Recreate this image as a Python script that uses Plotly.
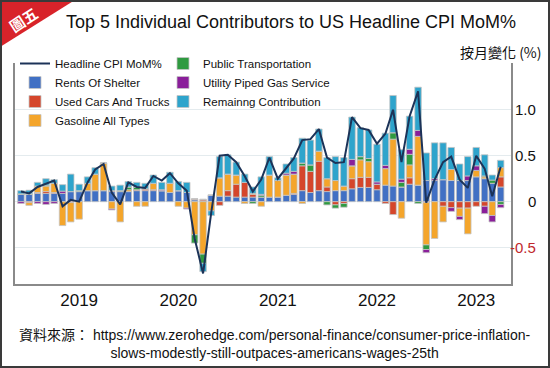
import plotly.graph_objects as go
import pandas as pd

# ---------------- data ----------------
dates = pd.date_range("2018-06-01", "2023-04-01", freq="MS").strftime("%Y-%m-%d").tolist()

rents_of_shelter = [0.08, 0.08, 0.09, 0.09, 0.09, 0.09, 0.11, 0.11, 0.12, 0.12,
                    0.12, 0.11, 0.11, 0.11, 0.12, 0.12, 0.12, 0.12, 0.10, 0.12,
                    0.10, 0.02, 0.01, 0.07, 0.06, 0.06, 0.05, 0.05, 0.05, 0.05,
                    0.05, 0.05, 0.07, 0.08, 0.12, 0.10, 0.12, 0.11, 0.12, 0.12,
                    0.14, 0.155, 0.155, 0.13, 0.18, 0.17, 0.16, 0.19, 0.18, 0.23,
                    0.23, 0.24, 0.23, 0.23, 0.23, 0.27, 0.25, 0.20, 0.16]
used_cars = [0.00, -0.01, 0.01, 0.02, 0.01, 0.00, -0.01, 0.00, 0.00, 0.00,
             0.00, 0.01, 0.00, 0.00, 0.01, 0.02, 0.01, 0.00, 0.00, 0.00,
             0.00, 0.01, 0.015, 0.00, -0.04, 0.06, 0.14, 0.16, 0.03, 0.00,
             0.00, 0.00, 0.00, 0.01, 0.27, 0.23, 0.32, 0.05, -0.035, -0.02,
             0.11, 0.11, 0.11, 0.06, -0.02, -0.14, 0.00, 0.07, 0.00, -0.01,
             0.00, -0.05, -0.065, -0.07, -0.07, -0.05, -0.05, 0.00, 0.11]
gasoline = [0.00, -0.03, 0.07, 0.06, 0.10, -0.26, -0.21, -0.19, 0.08, 0.18,
            0.30, -0.08, -0.22, 0.02, -0.05, -0.05, 0.07, 0.00, 0.10, -0.05,
            -0.07, -0.36, -0.57, -0.10, 0.20, 0.18, 0.10, -0.02, 0.01, -0.05,
            0.24, 0.18, 0.22, 0.21, -0.02, 0.00, 0.11, 0.09, 0.11, 0.05,
            0.14, 0.19, 0.17, 0.00, 0.18, 0.51, -0.18, 0.14, 0.53, -0.46,
            -0.40, -0.17, 0.12, -0.09, -0.28, 0.07, 0.02, -0.15, 0.10]
public_transport = [0.005, 0.005, 0.00, 0.01, 0.00, 0.00, 0.00, 0.01, 0.00, 0.00,
                    0.00, 0.00, 0.01, 0.03, 0.03, 0.00, 0.00, 0.00, 0.00, 0.00,
                    0.00, -0.09, -0.10, 0.00, 0.00, 0.00, 0.00, 0.00, -0.02, 0.02,
                    0.00, 0.00, 0.00, 0.00, 0.03, 0.07, 0.00, -0.035, -0.035, -0.04,
                    0.00, 0.035, 0.035, 0.00, 0.00, 0.07, 0.05, 0.115, -0.02, -0.05,
                    0.00, 0.00, 0.00, 0.00, 0.00, 0.00, 0.01, 0.035, -0.03]
utility_gas = [-0.02, 0.00, -0.02, -0.03, -0.02, 0.025, 0.00, 0.00, 0.00, 0.00,
               0.00, -0.01, 0.00, 0.00, 0.00, 0.00, 0.00, 0.01, 0.00, 0.00,
               -0.01, 0.00, 0.00, 0.00, 0.00, 0.00, 0.00, 0.00, 0.00, 0.01,
               0.00, 0.00, 0.02, 0.03, 0.00, 0.00, 0.00, 0.00, 0.00, 0.00,
               0.07, 0.00, 0.00, 0.025, 0.035, 0.00, 0.035, 0.055, 0.065, -0.035,
               0.02, 0.00, -0.04, -0.035, 0.05, 0.05, -0.08, -0.07, -0.035]
remaining = [0.035, 0.04, 0.04, 0.07, 0.04, 0.07, 0.19, 0.07, 0.07, 0.07,
             0.00, 0.05, 0.06, 0.06, 0.05, 0.06, 0.09, 0.08, 0.12, 0.10,
             0.11, 0.00, -0.09, -0.05, 0.23, 0.21, 0.14, 0.09, 0.07, 0.19,
             0.20, 0.03, 0.10, 0.15, 0.27, 0.27, 0.24, 0.23, 0.26, 0.31,
             0.46, 0.315, 0.31, 0.41, 0.35, 0.405, 0.32, 0.36, 0.47, 0.30,
             0.39, 0.40, 0.24, 0.18, 0.21, 0.20, 0.23, 0.055, 0.08]
headline = [0.11, 0.09, 0.16, 0.20, 0.23, -0.05, 0.02, 0.00, 0.21, 0.35,
            0.41, 0.10, -0.03, 0.21, 0.16, 0.15, 0.28, 0.23, 0.31, 0.20,
            0.12, -0.40, -0.78, -0.12, 0.50, 0.51, 0.43, 0.28, 0.11, 0.24,
            0.48, 0.25, 0.37, 0.47, 0.67, 0.68, 0.79, 0.48, 0.42, 0.43,
            0.92, 0.80, 0.78, 0.63, 0.74, 1.00, 0.43, 0.93, 1.20, -0.01,
            0.24, 0.43, 0.49, 0.24, 0.15, 0.50, 0.36, 0.06, 0.38]

year_labels = ["2019", "2020", "2021", "2022", "2023"]
year_label_pos = ["2019-01-01", "2020-01-01", "2021-01-01", "2022-01-01", "2023-01-01"]
y_tick_vals = [1.0, 0.5, 0, -0.5]
y_tick_text = ["1.0", "0.5", "0", "-0.5"]
y_tick_colors = ["#111111", "#111111", "#111111", "#c0282d"]

# ---------------- style ----------------
REG = "Liberation Sans, Arial, sans-serif"
CJK = "Noto Sans CJK TC, Noto Sans CJK SC, sans-serif"

series = [
    ("Rents Of Shelter", rents_of_shelter, "#4170c4", "legend", 2),
    ("Used Cars And Trucks", used_cars, "#d5462b", "legend", 3),
    ("Gasoline All Types", gasoline, "#f4a52b", "legend", 4),
    ("Public Transportation", public_transport, "#2f9a40", "legend2", 1),
    ("Utility Piped Gas Service", utility_gas, "#8a1f9a", "legend2", 2),
    ("Remainng Contribution", remaining, "#2ea4cc", "legend2", 3),
]

fig = go.Figure()
bar_w = 24 * 86400000
for name, vals, col, leg, rank in series:
    fig.add_trace(go.Bar(
        x=dates, y=vals, name=name, width=bar_w,
        marker=dict(color=col, line=dict(color="#c4c4c4", width=0.8)),
        legend=leg, legendrank=rank,
    ))
fig.add_trace(go.Scatter(
    x=dates, y=headline, name="Headline CPI MoM%", mode="lines",
    line=dict(color="#1c3358", width=2), legend="legend", legendrank=1,
))

W, H = 550, 368
L, R, T, B = 15, 39, 63, 84
pw, ph = W - L - R, H - T - B

def px(x):
    return (x - L) / pw

def py(y):
    return (H - B - y) / ph

annotations = []
for v, t, c in zip(y_tick_vals, y_tick_text, y_tick_colors):
    annotations.append(dict(x=px(538), xref="paper", xanchor="right",
                            y=v, yref="y", yanchor="middle", text=t,
                            showarrow=False, font=dict(family=REG, size=15, color=c)))
annotations.append(dict(x=px(501), y=py(52), xref="paper", yref="paper",
                        text="按月變化 (%)", showarrow=False, xanchor="center", yanchor="middle",
                        font=dict(family=CJK, size=14, color="#111111")))
annotations.append(dict(x=px(275), y=py(344), xref="paper", yref="paper",
                        text="資料來源： https://www.zerohedge.com/personal-finance/consumer-price-inflation-"
                             "<br>slows-modestly-still-outpaces-americans-wages-25th",
                        showarrow=False, xanchor="center", yanchor="middle", align="center",
                        font=dict(family="Liberation Sans, Noto Sans CJK TC, sans-serif", size=14, color="#111111")))
annotations.append(dict(x=px(23), y=py(19), xref="paper", yref="paper", text="<b>圖五</b>",
                        showarrow=False, textangle=-33, xanchor="center", yanchor="middle",
                        font=dict(family=CJK, size=15, color="white")))

shapes = [
    dict(type="path", xref="paper", yref="paper", layer="above",
         path=f"M {px(0)},{py(0)} L {px(75)},{py(0)} L {px(0)},{py(47)} Z",
         fillcolor="#d8232a", line=dict(width=0)),
    dict(type="rect", xref="paper", yref="paper",
         x0=px(1), x1=px(549), y0=py(367), y1=py(1),
         line=dict(color="#3a3a3a", width=2)),
]

fig.update_layout(
    width=W, height=H,
    margin=dict(l=L, r=R, t=T, b=B, autoexpand=False),
    paper_bgcolor="white", plot_bgcolor="white",
    barmode="relative",
    title=dict(text="Top 5 Individual Contributors to US Headline CPI MoM%",
               x=291 / W, xref="container", xanchor="center",
               y=1 - 22 / H, yref="container", yanchor="middle",
               font=dict(family=REG, size=18, color="#111111")),
    legend=dict(x=0, y=py(49), xanchor="left", yanchor="top",
                bgcolor="rgba(0,0,0,0)", traceorder="normal", tracegroupgap=0,
                font=dict(family=REG, size=11.5, color="#111111"), itemwidth=30),
    legend2=dict(x=px(163), y=py(49), xanchor="left", yanchor="top",
                 bgcolor="rgba(0,0,0,0)", traceorder="normal", tracegroupgap=0,
                 font=dict(family=REG, size=11.5, color="#111111"), itemwidth=30),
    xaxis=dict(type="date", range=["2018-05-10", "2023-05-09"], automargin=False,
               tickvals=year_label_pos, ticktext=year_labels, ticks="",
               showgrid=False, zeroline=False, showline=True, linecolor="#8a8a8a",
               linewidth=1.5, tickfont=dict(family=REG, size=17, color="#111111")),
    yaxis=dict(range=[-0.895, 1.508], tickvals=y_tick_vals, showticklabels=False,
               ticks="", showgrid=True, gridcolor="#e4ebee", gridwidth=1, automargin=False,
               zeroline=False, showline=True, mirror=True, linecolor="#8a8a8a",
               linewidth=1.5, side="right"),
    annotations=annotations, shapes=shapes,
    showlegend=True,
)

fig.write_html("out.html", config={"displayModeBar": False},
               post_script="document.body.style.margin='0px';")
